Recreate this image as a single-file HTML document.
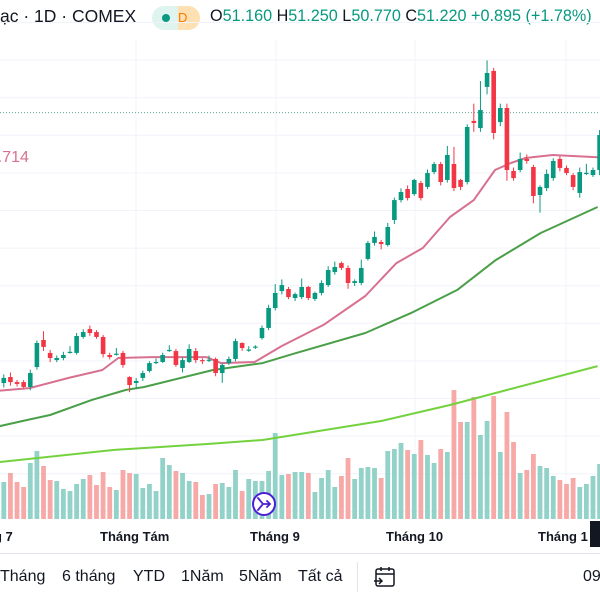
<!DOCTYPE html>
<html><head><meta charset="utf-8">
<style>
html,body{margin:0;padding:0;background:#fff;width:600px;height:600px;overflow:hidden;font-family:"Liberation Sans","Noto Sans CJK JP",sans-serif;}
#wrap{position:relative;width:600px;height:600px;}
.hdr{position:absolute;top:6px;left:0;font-size:17.5px;color:#131722;white-space:nowrap;}
.ohlc{position:absolute;top:7px;left:210px;font-size:16.2px;color:#131722;white-space:nowrap;}
.ohlc .v{color:#089981;}
.pill{position:absolute;top:6px;left:152px;width:48px;height:24px;border-radius:12px;background:#dff3ef;}
.pill .dot{position:absolute;left:10px;top:8px;width:8px;height:8px;border-radius:50%;background:#089981;}
.pill .d{position:absolute;left:26px;top:0;width:22px;height:24px;border-radius:0 12px 12px 0;background:#ffe0b2;color:#f57c00;font-size:13px;line-height:24px;text-align:left;}
.tb{position:absolute;top:568px;font-size:16px;color:#131722;white-space:nowrap;}
.ml{position:absolute;top:529px;font-size:13px;font-weight:bold;color:#131722;white-space:nowrap;}
</style></head>
<body><div id="wrap">
<div class="hdr">ạc · 1D · COMEX</div>
<div class="pill"><div class="dot"></div><div class="d">D</div></div>
<div class="ohlc">O<span class="v">51.160</span> H<span class="v">51.250</span> L<span class="v">50.770</span> C<span class="v">51.220</span> <span class="v">+0.895 (+1.78%)</span></div>
<svg id="chart" width="600" height="600" style="position:absolute;left:0;top:0"></svg>
<div class="ml" style="left:-6px">g 7</div>
<div class="ml" style="left:100px">Tháng Tám</div>
<div class="ml" style="left:250px">Tháng 9</div>
<div class="ml" style="left:386px">Tháng 10</div>
<div class="ml" style="left:538px">Tháng 1</div>
<div style="position:absolute;left:590px;top:521px;width:10px;height:26px;background:#131722"></div>
<div style="position:absolute;left:0;top:553px;width:600px;height:1px;background:#e0e3eb"></div>
<div class="tb" style="left:0">Tháng</div>
<div class="tb" style="left:62px">6 tháng</div>
<div class="tb" style="left:133px">YTD</div>
<div class="tb" style="left:181px">1Năm</div>
<div class="tb" style="left:239px">5Năm</div>
<div class="tb" style="left:298px">Tất cả</div>
<div style="position:absolute;left:357px;top:562px;width:1px;height:30px;background:#e0e3eb"></div>
<svg style="position:absolute;left:373px;top:565px" width="24" height="24"><rect x="3" y="4" width="18" height="17" rx="2" fill="none" stroke="#131722" stroke-width="1.5"/><line x1="3" y1="9" x2="21" y2="9" stroke="#131722" stroke-width="1.5"/><line x1="8" y1="2" x2="8" y2="6" stroke="#131722" stroke-width="1.5"/><line x1="16" y1="2" x2="16" y2="6" stroke="#131722" stroke-width="1.5"/><path d="M1 16h8m-3-3l3 3-3 3" fill="none" stroke="#131722" stroke-width="1.5"/></svg>
<div class="tb" style="left:583px">09</div>
</div>
<script>
const opens=[36.84,37.16,36.89,36.89,36.63,37.69,39.13,38.44,38.06,38.17,38.49,38.44,39.29,39.71,39.55,39.29,38.33,38.38,38.44,37.16,36.84,37.11,37.48,37.90,37.96,38.59,38.54,37.64,37.96,38.54,38.06,38.06,38.12,37.37,37.90,38.12,38.97,38.60,38.76,39.23,39.77,40.83,41.73,41.84,41.36,41.41,41.95,41.31,41.63,42.05,42.74,43.22,42.96,42.16,42.16,43.44,44.29,44.34,44.18,45.51,46.57,47.16,46.89,47.48,47.27,48.06,48.49,47.64,48.49,47.64,47.53,50.78,50.40,52.59,53.44,50.72,51.47,48.12,48.17,48.76,48.33,46.84,47.21,47.74,48.76,48.28,47.90,46.95,48.00,47.90,48.17];
const closes=[37.11,36.89,36.79,36.63,37.37,38.97,38.76,38.17,38.17,38.33,38.50,39.34,39.55,39.50,39.29,38.38,38.22,38.40,37.80,36.73,36.95,37.37,37.90,37.96,38.33,38.60,37.80,38.06,38.65,38.06,38.00,38.08,37.37,37.80,38.12,39.07,38.70,38.62,38.78,39.77,40.83,41.63,42.05,41.41,41.57,41.95,41.36,41.63,42.16,42.85,43.01,42.96,42.16,42.26,42.96,44.29,44.61,44.23,45.14,46.57,47.00,46.68,47.64,46.68,48.01,48.49,47.53,48.97,47.21,47.27,50.46,50.67,51.36,53.33,50.14,51.47,48.17,47.74,48.76,48.65,46.79,47.27,47.96,48.65,48.28,48.01,47.27,48.06,48.02,48.17,50.03];
const highs=[37.30,37.40,37.00,37.00,37.55,39.10,39.60,38.60,38.30,38.50,38.80,39.50,39.70,39.90,39.65,39.40,38.45,38.70,38.55,37.20,37.10,37.50,38.00,38.15,38.45,38.85,38.65,38.20,38.90,38.70,38.15,38.30,38.20,37.90,38.25,39.20,39.00,38.80,38.85,39.90,41.00,42.10,42.35,41.95,41.65,42.40,42.00,41.70,42.30,43.05,43.30,43.30,43.10,42.35,43.40,44.40,44.90,44.45,45.35,46.70,47.20,47.35,47.70,47.60,48.20,48.60,48.60,49.45,49.40,47.70,50.60,51.70,52.90,54.00,53.60,51.70,51.70,48.30,49.10,49.00,48.45,47.35,48.20,48.80,48.90,48.40,48.00,48.30,48.50,48.30,50.30];
const lows=[36.60,36.70,36.65,36.55,36.45,37.55,38.55,37.95,37.95,38.05,38.40,38.35,39.20,39.35,39.20,38.20,38.10,38.30,37.65,36.35,36.55,36.95,37.40,37.85,37.90,38.50,37.70,37.40,37.90,37.90,37.85,37.95,37.20,36.85,37.80,38.00,38.55,38.50,38.65,39.15,39.65,40.70,41.55,41.30,41.20,41.30,41.25,41.20,41.50,41.95,42.60,42.85,41.85,42.00,42.05,43.35,44.15,43.95,44.10,45.30,46.45,46.55,46.80,46.55,47.15,47.95,47.35,47.50,47.05,47.10,47.40,50.20,50.20,52.20,49.80,50.50,47.60,47.60,48.05,48.50,46.40,45.90,47.05,47.60,48.10,47.90,47.10,46.70,47.90,47.80,47.90];
const volumes=[37,46,37,32,56,68,53,39,38,30,28,35,40,44,34,47,32,29,49,46,45,31,35,28,61,54,48,46,38,37,24,25,35,36,32,49,28,40,38,38,48,86,44,45,47,47,46,27,41,49,32,43,61,40,51,52,51,41,68,70,76,69,65,79,64,56,70,67,129,97,97,122,84,98,123,67,107,77,46,49,65,53,51,43,39,35,41,32,35,43,55];
const maFastIdx=[-0.6,3.9,9.8,14.9,17.3,22.4,30.6,32.8,37.9,42,48.3,54.6,59.3,63.3,67.4,71,74.2,76.6,78.8,82.9,89.7];
const maFastVal=[36.43,36.57,37.11,37.53,38.17,38.22,38.22,37.90,37.96,38.81,39.93,41.47,43.22,44.02,45.67,46.57,48.17,48.54,48.81,48.97,48.85];
const maMidIdx=[-0.6,3.5,7,13.3,18.4,21.2,31.6,39.1,44.2,54.6,61.5,68.5,74.3,81.1,89.7];
const maMidVal=[34.55,34.87,35.14,35.94,36.47,36.63,37.53,37.90,38.44,39.50,40.56,41.79,43.38,44.82,46.20];
const maSlowIdx=[-0.6,16.7,31,39.1,57,67.4,76,89.7];
const maSlowVal=[32.64,33.28,33.60,33.81,34.82,35.67,36.47,37.74];
const lastPrice=51.22;
const maLabel="48.714";

const NS="http://www.w3.org/2000/svg";
const svg=document.getElementById('chart');
function xAt(i){return 3.8+i*6.62;}
function yAt(p){return 98+(52-p)*18.8;}
function yVol(v){return 519-v;}
function mk(tag,attrs,parent){const e=document.createElementNS(NS,tag);for(const k in attrs)e.setAttribute(k,attrs[k]);(parent||svg).appendChild(e);return e;}

for(let k=0;k<14;k++){const y=22.5+k*37.6;const g=mk('line',{x1:0,x2:600,y1:y,y2:y,stroke:'#f0f3fa','stroke-width':1});

}
[136,276,415,566].forEach(x=>{const g=mk('line',{x1:x,x2:x,y1:40,y2:519,stroke:'#f0f3fa','stroke-width':1});

});

const vg=mk('g',{});


volumes.forEach((v,i)=>{const up=closes[i]>=opens[i];const r=mk('rect',{x:xAt(i)-2.4,y:yVol(v),width:4.8,height:v,fill:up?'#92d2c8':'#f7a9a8'},vg);

});

function line(idx,val,color,w,name){const d=idx.map((t,k)=>(k?'L':'M')+xAt(t).toFixed(1)+' '+yAt(val[k]).toFixed(1)).join(' ');const p=mk('path',{d:d,fill:'none',stroke:color,'stroke-width':w,'stroke-linejoin':'round'});

}
line(maSlowIdx,maSlowVal,'#74d23e',2,'ma-slow-line');
line(maMidIdx,maMidVal,'#4a9f48',2,'ma-mid-line');
line(maFastIdx,maFastVal,'#d8708f',2,'ma-fast-line');

const lp=mk('line',{x1:0,x2:600,y1:yAt(lastPrice),y2:yAt(lastPrice),stroke:'#5fa89b','stroke-width':1,'stroke-dasharray':'1 2'});



const cg=mk('g',{});


opens.forEach((o,i)=>{const c=closes[i];const up=c>=o;const col=up?'#089981':'#f23645';const x=xAt(i);
const w=mk('line',{x1:x,x2:x,y1:yAt(highs[i]),y2:yAt(lows[i]),stroke:col,'stroke-width':1},cg);


const top=yAt(Math.max(o,c));const h=Math.max(1.2,Math.abs(yAt(o)-yAt(c)));
const b=mk('rect',{x:x-2.3,y:top,width:4.6,height:h,fill:col},cg);

});

const t=mk('text',{x:-20,y:162,fill:'#d8708f','font-size':16,'font-family':'Liberation Sans, sans-serif'});
t.textContent=maLabel;



const ic=mk('g',{});


mk('circle',{cx:264,cy:504,r:11,fill:'#fff',stroke:'#4a1fd6','stroke-width':2},ic);
mk('path',{d:'M258 498l5 6-5 6M263 504h7m-3-3l3 3-3 3',fill:'none',stroke:'#4a1fd6','stroke-width':1.8,'stroke-linecap':'round'},ic);
</script>
</body></html>
